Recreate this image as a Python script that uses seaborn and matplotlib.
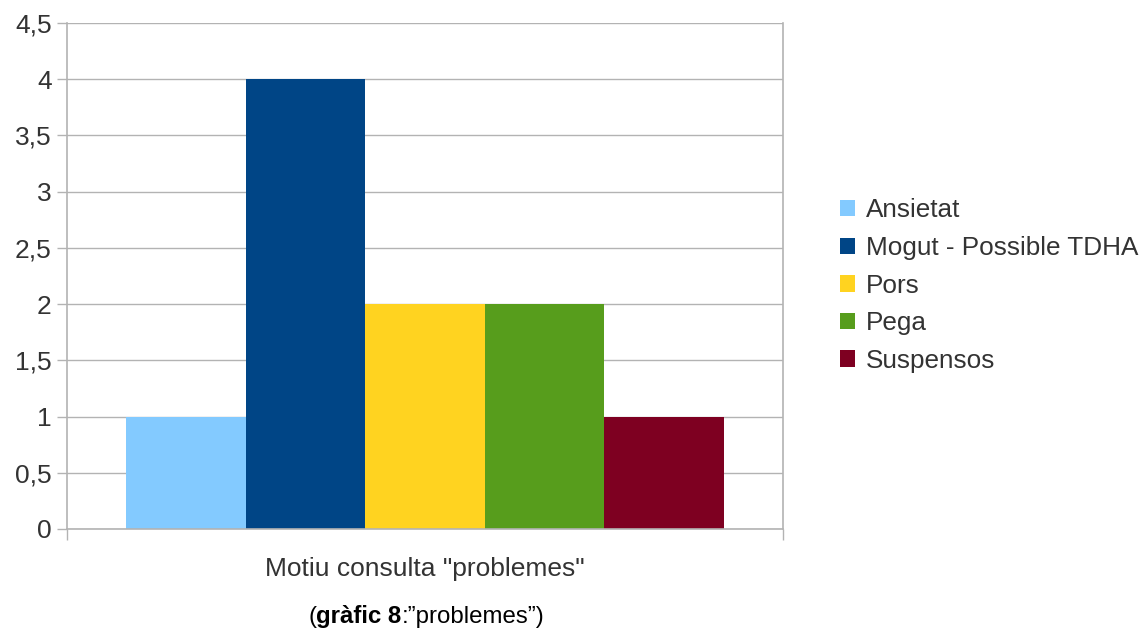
import matplotlib
matplotlib.use("Agg")
import matplotlib.pyplot as plt
import seaborn as sns
import pandas as pd
from matplotlib.ticker import FuncFormatter, MultipleLocator

category = ['Motiu consulta "problemes"']
series = ["Ansietat", "Mogut - Possible TDHA", "Pors", "Pega", "Suspensos"]
values = [1, 4, 2, 2, 1]
colors = ["#83caff", "#004586", "#ffd320", "#579d1c", "#7e0021"]

df = pd.DataFrame({
    "motiu": category * len(series),
    "serie": series,
    "valor": values,
})

sns.set_theme(style="white")
plt.rcParams["font.family"] = ["Liberation Sans", "DejaVu Sans"]

fig = plt.figure(figsize=(11.43, 6.28), dpi=100)
ax = fig.add_axes([67 / 1143, 1 - 529 / 628, 716 / 1143, 506 / 628])

sns.barplot(data=df, x="motiu", y="valor", hue="serie", palette=colors,
            width=0.834, gap=0, saturation=1, ax=ax, linewidth=0)

ax.set_xlim(-0.5, 0.5)
ax.set_ylim(0, 4.5)
ax.yaxis.set_major_locator(MultipleLocator(0.5))
ax.yaxis.set_major_formatter(FuncFormatter(lambda v, p: f"{v:g}".replace(".", ",")))
ax.grid(axis="y", color="#b3b3b3", linewidth=1)
ax.set_axisbelow(True)

for side in ["left", "right", "bottom"]:
    ax.spines[side].set_color("#b3b3b3")
    ax.spines[side].set_linewidth(1.2)
ax.spines["top"].set_visible(False)

ax.tick_params(axis="y", which="major", length=7.5, width=1, color="#b3b3b3",
               labelsize=19, labelcolor="#333333", pad=3.5, left=True)
ax.tick_params(axis="x", which="major", length=0, labelsize=19,
               labelcolor="#333333", pad=20)
ax.set_xticks([-0.5, 0.5], minor=True)
ax.tick_params(axis="x", which="minor", length=8, width=1, color="#b3b3b3",
               bottom=True)
ax.set_xlabel("")
ax.set_ylabel("")

leg = ax.legend(loc="center left", bbox_to_anchor=(1.065, 0.481), frameon=False,
                fontsize=18.8, handlelength=0.58, handleheight=0.58,
                handletextpad=0.4, labelspacing=0.52, borderaxespad=0)
for t in leg.get_texts():
    t.set_color("#333333")

# Caption with the bold figure reference
fig.canvas.draw()
r = fig.canvas.get_renderer()
parts = [("(", "normal"), ("gràfic 8", "bold"), (":”problemes”)", "normal")]
texts = []
widths = []
for s, w in parts:
    tt = fig.text(0, 0, s, fontsize=17.3, fontweight=w, color="#000000")
    widths.append(tt.get_window_extent(r).width)
    texts.append(tt)
total = sum(widths)
x0 = 426 - total / 2
ybase = 5
for tt, wd in zip(texts, widths):
    tt.set_position((x0 / 1143, ybase / 628))
    x0 += wd

fig.savefig("out.png", dpi=100, facecolor="white")
